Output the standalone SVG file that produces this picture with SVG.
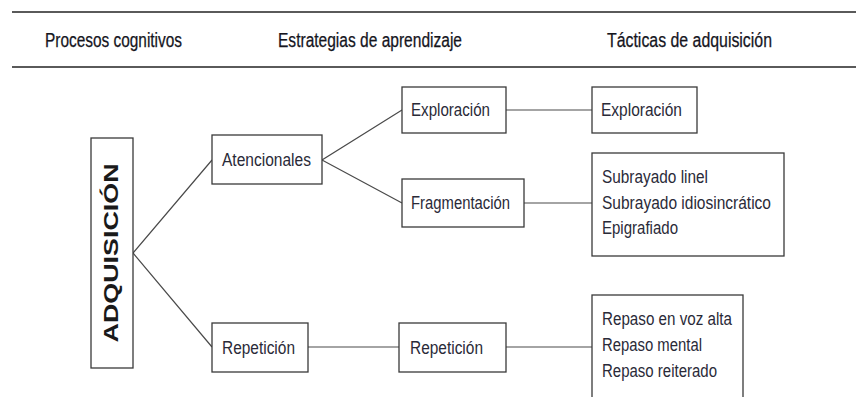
<svg xmlns="http://www.w3.org/2000/svg" width="856" height="397" viewBox="0 0 856 397">
<style>
.rule{stroke:#5a5a5a;stroke-width:2;fill:none}
.box{fill:#fff;stroke:#3a3a3a;stroke-width:1.3}
.conn{stroke:#4a4a4a;stroke-width:1.2;fill:none}
.hd{font-family:"Liberation Sans",Arial,sans-serif;font-size:19.5px;fill:#15151d;stroke:#15151d;stroke-width:0.25}
.t{font-family:"Liberation Sans",Arial,sans-serif;font-size:17.5px;fill:#2a2a38}
.big{font-family:"Liberation Sans",Arial,sans-serif;font-size:20px;font-weight:bold;fill:#1a1a1a}
</style>
<rect width="856" height="397" fill="#fff"/>
<g id="header">
<line class="rule" x1="12" y1="12" x2="856" y2="12"/>
<line class="rule" x1="12" y1="67" x2="856" y2="67"/>
<text class="hd" x="45" y="47" textLength="137" lengthAdjust="spacingAndGlyphs">Procesos cognitivos</text>
<text class="hd" x="278" y="47" textLength="184" lengthAdjust="spacingAndGlyphs">Estrategias de aprendizaje</text>
<text class="hd" x="607" y="47" textLength="165" lengthAdjust="spacingAndGlyphs">Tácticas de adquisición</text>
</g>
<g id="connectors">
<polyline class="conn" points="212,160 133,253 212,347"/>
<polyline class="conn" points="402,110 322,160 402,203"/>
<line class="conn" x1="506" y1="110" x2="592" y2="110"/>
<line class="conn" x1="524" y1="203" x2="592" y2="203"/>
<line class="conn" x1="308" y1="347" x2="399" y2="347"/>
<line class="conn" x1="506" y1="347" x2="592" y2="347"/>
</g>
<g id="adquisicion">
<rect class="box" x="91" y="138" width="42" height="230"/>
<text class="big" transform="translate(118,253) rotate(-90)" x="0" y="0" text-anchor="middle" textLength="179" lengthAdjust="spacingAndGlyphs">ADQUISICIÓN</text>
</g>
<g id="atencionales">
<rect class="box" x="212" y="135" width="110" height="49"/>
<text class="t" x="222" y="166" textLength="89" lengthAdjust="spacingAndGlyphs">Atencionales</text>
</g>
<g id="repeticion1">
<rect class="box" x="212" y="323" width="96" height="49"/>
<text class="t" x="222" y="354" textLength="73" lengthAdjust="spacingAndGlyphs">Repetición</text>
</g>
<g id="exploracion1">
<rect class="box" x="402" y="87" width="104" height="46"/>
<text class="t" x="411" y="116" textLength="79" lengthAdjust="spacingAndGlyphs">Exploración</text>
</g>
<g id="fragmentacion">
<rect class="box" x="402" y="179" width="122" height="48"/>
<text class="t" x="411" y="209" textLength="99" lengthAdjust="spacingAndGlyphs">Fragmentación</text>
</g>
<g id="repeticion2">
<rect class="box" x="399" y="323" width="107" height="49"/>
<text class="t" x="410" y="354" textLength="73" lengthAdjust="spacingAndGlyphs">Repetición</text>
</g>
<g id="exploracion2">
<rect class="box" x="592" y="87" width="105" height="46"/>
<text class="t" x="601" y="116" textLength="81" lengthAdjust="spacingAndGlyphs">Exploración</text>
</g>
<g id="subrayado">
<rect class="box" x="592" y="153" width="192" height="103"/>
<text class="t" x="602" y="183" textLength="106" lengthAdjust="spacingAndGlyphs">Subrayado linel</text>
<text class="t" x="602" y="209" textLength="169" lengthAdjust="spacingAndGlyphs">Subrayado idiosincrático</text>
<text class="t" x="602" y="234" textLength="76" lengthAdjust="spacingAndGlyphs">Epigrafiado</text>
</g>
<g id="repaso">
<rect class="box" x="592" y="295" width="151" height="120"/>
<text class="t" x="602" y="325" textLength="130" lengthAdjust="spacingAndGlyphs">Repaso en voz alta</text>
<text class="t" x="602" y="351" textLength="100" lengthAdjust="spacingAndGlyphs">Repaso mental</text>
<text class="t" x="602" y="377" textLength="115" lengthAdjust="spacingAndGlyphs">Repaso reiterado</text>
</g>
</svg>
